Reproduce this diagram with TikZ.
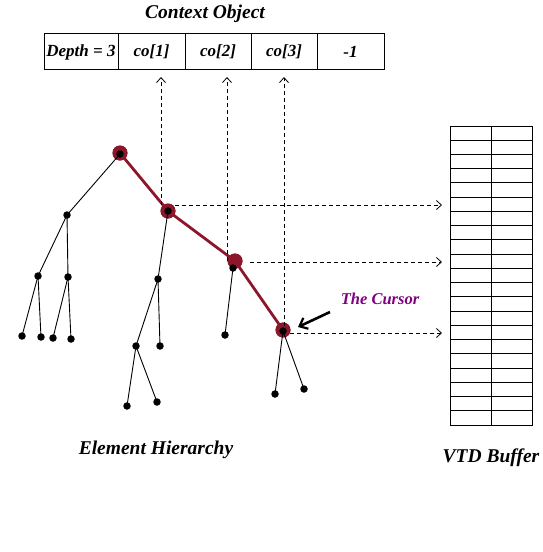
\documentclass[tikz,border=0pt]{standalone}
\usepackage{fontspec}
\setmainfont{Liberation Serif}
\usetikzlibrary{arrows.meta}
\definecolor{treered}{RGB}{140,22,42}
\definecolor{cursorpurple}{RGB}{128,0,128}
\tikzset{
  reddot/.style={circle,fill=treered,inner sep=0pt,minimum size=15pt},
  blackdot/.style={circle,fill=black,inner sep=0pt,minimum size=7.5pt},
  edge/.style={line width=0.9pt},
  redpath/.style={line width=2.8pt,draw=treered},
  dashedarrow/.style={dashed,dash pattern=on 4pt off 3pt,line width=0.8pt,-{Straight Barb[length=5pt,width=9pt,line width=0.8pt]}},
  celltext/.style={font=\bfseries\itshape\fontsize{17}{19}\selectfont,inner sep=0pt},
  label/.style={font=\bfseries\itshape\fontsize{19.5}{22}\selectfont}
}
\begin{document}
\begin{tikzpicture}[x=1pt,y=-1pt]
\useasboundingbox (0,0) rectangle (543,552);
% Context object table
\node[label] (title) at (205,14) {Context Object};
\draw[line width=1pt] (44,33) rectangle (384,69);
\foreach \x in {118,185,251,317} \draw[line width=1pt] (\x,33) -- (\x,69);
\node[celltext] (c0) at (81,52) {Depth = 3};
\node[celltext] (c1) at (151.5,52) {co[1]};
\node[celltext] (c2) at (218,52) {co[2]};
\node[celltext] (c3) at (284,52) {co[3]};
\node[celltext] (c4) at (350.5,52) {-1};
% VTD buffer
\node[draw,line width=1pt,minimum width=82pt,minimum height=299pt,inner sep=0pt,anchor=north west] (buf) at (450,126) {};
\draw[line width=1pt] (buf.north) -- (buf.south);
\foreach \i in {1,...,20} \draw[line width=1pt] (450,126+\i*14.24) -- (532,126+\i*14.24);
% tree: red path nodes
\node[reddot] (r0) at (120,153) {};
\node[reddot] (rB) at (168,211) {};
\node[reddot] (rC) at (235,261) {};
\node[reddot] (rD) at (283,330) {};
\draw[redpath] (r0.center) -- (rB.center) -- (rC.center) -- (rD.center);
\node[reddot] at (120,153) {};
\node[reddot] at (168,211) {};
\node[reddot] at (235,261) {};
\node[reddot] at (283,330) {};
\node[blackdot] (n0) at (120,154) {};
\node[blackdot] (nB) at (168,211) {};
\node[blackdot] (nC) at (233,268) {};
\node[blackdot] (nD) at (283,331) {};
% black nodes
\node[blackdot] (a) at (67,215) {};
\node[blackdot] (a1) at (38,276) {};
\node[blackdot] (a2) at (68,277) {};
\node[blackdot] (a11) at (22,336) {};
\node[blackdot] (a12) at (41,337) {};
\node[blackdot] (a21) at (53,338) {};
\node[blackdot] (a22) at (71,339) {};
\node[blackdot] (b1) at (158,279) {};
\node[blackdot] (b11) at (136,346) {};
\node[blackdot] (b12) at (160,346) {};
\node[blackdot] (b111) at (127,406) {};
\node[blackdot] (b112) at (157,402) {};
\node[blackdot] (c1n) at (225,335) {};
\node[blackdot] (d1) at (275,394) {};
\node[blackdot] (d2) at (304,389) {};
\draw[edge] (n0.center) -- (a.center);
\draw[edge] (a.center) -- (a1.center);
\draw[edge] (a.center) -- (a2.center);
\draw[edge] (a1.center) -- (a11.center);
\draw[edge] (a1.center) -- (a12.center);
\draw[edge] (a2.center) -- (a21.center);
\draw[edge] (a2.center) -- (a22.center);
\draw[edge] (nB.center) -- (b1.center);
\draw[edge] (b1.center) -- (b11.center);
\draw[edge] (b1.center) -- (b12.center);
\draw[edge] (b11.center) -- (b111.center);
\draw[edge] (b11.center) -- (b112.center);
\draw[edge] (nC.center) -- (c1n.center);
\draw[edge] (nD.center) -- (d1.center);
\draw[edge] (nD.center) -- (d2.center);
% dashed connectors
\coordinate (v1) at (161,205);
\coordinate (v2) at (227,261);
\coordinate (v3) at (284,326);
\coordinate (t1) at (161,77);
\coordinate (t2) at (227,77);
\coordinate (t3) at (284,77);
\coordinate (h1) at (175,205);
\coordinate (h2) at (250,262);
\coordinate (h3) at (290,333);
\coordinate (e1) at (442,205);
\coordinate (e2) at (442,262);
\coordinate (e3) at (442,333);
\draw[dashedarrow] (v1) -- (t1);
\draw[dashedarrow] (v2) -- (t2);
\draw[dashedarrow] (v3) -- (t3);
\draw[dashedarrow] (h1) -- (e1);
\draw[dashedarrow] (h2) -- (e2);
\draw[dashedarrow] (h3) -- (e3);
% cursor
\node[font=\bfseries\itshape\fontsize{16.5}{18}\selectfont,text=cursorpurple] (cur) at (380,299) {The Cursor};
\coordinate (curtail) at (330,312);
\coordinate (curtip) at (298,327);
\draw[line width=2.6pt,-{Straight Barb[length=7pt,width=12pt,line width=2.2pt]}] (curtail) -- (curtip);
% labels
\node[label] (eh) at (156,450) {Element Hierarchy};
\node[label] (vtd) at (491,458) {VTD Buffer};
\end{tikzpicture}
\end{document}
